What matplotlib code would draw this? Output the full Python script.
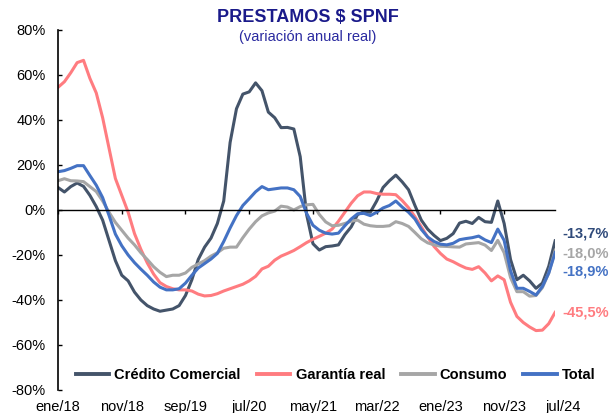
import matplotlib
matplotlib.use("Agg")
import matplotlib.pyplot as plt
import matplotlib.transforms as mtransforms
import numpy as np

plt.rcParams["font.family"] = ["Liberation Sans", "DejaVu Sans"]

# eje x: meses ene/18 .. jul/24
tick_labels = ["ene/18", "nov/18", "sep/19", "jul/20", "may/21",
               "mar/22", "ene/23", "nov/23", "jul/24"]
tick_idx = [0, 10, 20, 30, 40, 50, 60, 70, 78]

credito = [10, 8, 10.4, 12, 10.5, 6.5, 1.5, -4.5, -13.5, -22.5,
           -29, -31.5, -36.5, -40, -42.5, -44, -45, -44.5, -44, -42.5,
           -38, -31, -22, -16.5, -12.5, -6, 4, 30, 45, 51.5,
           52.5, 56.5, 53, 43.5, 41, 36.6, 36.7, 36, 23.7, -2,
           -15, -17.8, -16.3, -16, -15.5, -11, -7.5, -2, -0.8, -1,
           4, 10, 13, 15.5, 12.5, 9, 2, -4.5, -8.5, -11.3,
           -13.6, -12.6, -10.5, -5.8, -5, -6, -3.3, -5.2, -5.5, 4,
           -6, -22, -31, -29, -31.5, -34.8, -32.5, -25, -13.7]

garantia = [54.5, 57, 61, 65.5, 66.5, 58.5, 52, 41, 27.5, 14,
            6.5, -1, -10.5, -17.5, -23.5, -28.5, -32.3, -34, -35, -35.5,
            -35.5, -36, -37.4, -38.2, -38, -37.2, -36, -35, -34, -33,
            -31.5, -29.5, -26.2, -25, -22.3, -20.5, -19.3, -18, -16.3, -14.5,
            -13, -11.7, -10.3, -8.5, -5, -1, 3, 6.3, 8, 8,
            7.3, 7, 7, 6.8, 4.2, 1, -3, -7.5, -12, -16.2,
            -19.3, -21.8, -23, -24.5, -25.8, -26.4, -25.2, -28, -31.5, -29.3,
            -31, -41, -47.3, -50, -52, -53.6, -53.4, -50.5, -45.5]

consumo = [13, 13.9, 13, 12.9, 12.6, 10.4, 8.2, 4, -1, -5.5,
           -9, -12.5, -15.5, -19, -22, -25.2, -27.7, -29.6, -29, -29,
           -28, -25.5, -24, -22.5, -20.5, -19, -17, -16.5, -16.5, -12.3,
           -8.5, -5.2, -2.6, -1.3, -0.5, 1.7, 1.3, 0, 1.5, 2.3,
           2.5, -2, -5.3, -7, -6.8, -6, -5, -4.5, -6.3, -7,
           -7.3, -7.3, -7, -5.2, -6, -7.3, -10, -12.8, -14.6, -15.5,
           -16.1, -16.2, -16.4, -16.5, -15.1, -14.8, -14.5, -15.6, -18, -13.5,
           -19, -30, -36.3, -36.3, -38.3, -38, -34.5, -28, -18.0]

total = [17, 17.5, 18.5, 19.7, 19.7, 15.3, 11, 5.5, -2.4, -10.7,
         -15.9, -20, -23.4, -26.3, -29, -32, -34.3, -35.5, -35.5, -35,
         -32.5, -29, -25.8, -23.8, -21.8, -19.3, -14, -8, -2.5, 2,
         5, 8.1, 10.4, 9, 9.4, 9.8, 9.8, 9, 6, -1.5,
         -6.8, -9, -10.3, -10.7, -10.3, -7, -4, -1.7, -1.5, -2.5,
         -1, 0.9, 2, 4, 1.3, -1, -4, -8.6, -12, -14,
         -15.2, -15.5, -14.8, -13.2, -12.7, -12.3, -11.6, -13.3, -14.5, -8.5,
         -13.5, -27, -34.8, -34.8, -36.2, -37.8, -34, -28, -18.9]

series = [
    ("Crédito Comercial", credito, "#44546a", "#2f4a7a", "-13,7%", 5.5),
    ("Garantía real", garantia, "#ff7c80", "#ff7c80", "-45,5%", 0),
    ("Consumo", consumo, "#a6a6a6", "#a6a6a6", "-18,0%", -2),
    ("Total", total, "#4472c4", "#4472c4", "-18,9%", -14),
]

fig = plt.figure(figsize=(6.16, 4.13), dpi=100)
ax = fig.add_axes([0.0942, 0.0557, 0.807, 0.8717])

x = np.arange(len(total))
for name, vals, col, lcol, lab, dy in series:
    ax.plot(x, vals, color=col, lw=2.2, label=name, solid_joinstyle="round")
    ax.annotate(lab, xy=(x[-1], vals[-1]), xytext=(5, dy),
                textcoords="offset points", color=lcol, fontsize=10.5,
                fontweight="bold", va="center", ha="left", annotation_clip=False)

ax.set_xlim(0, x[-1])
ax.set_ylim(-80, 80)
ax.set_yticks(np.arange(-80, 81, 20))
ax.set_yticklabels([f"{v}%" for v in range(-80, 81, 20)])
ax.tick_params(axis="y", direction="in", length=3, width=1, pad=9, labelsize=10.5)

# linea del cero con marcas de meses
ax.spines["top"].set_visible(False)
ax.spines["right"].set_visible(False)
ax.spines["bottom"].set_position(("data", 0))
ax.spines["bottom"].set_linewidth(1)
ax.spines["left"].set_linewidth(1.2)
ax.set_xticks(tick_idx[:-1])
ax.tick_params(axis="x", direction="out", length=3, width=1, labelbottom=False)

sec = ax.secondary_xaxis("bottom")
sec.set_xticks(tick_idx)
sec.set_xticklabels(tick_labels)
sec.spines["bottom"].set_visible(False)
sec.tick_params(axis="x", length=0, pad=7, labelsize=10.5)
# la ultima etiqueta queda un poco corrida a la derecha, como en el original
last = sec.get_xticklabels()[-1]
last.set_transform(last.get_transform() +
                   mtransforms.ScaledTranslation(0.08, 0, fig.dpi_scale_trans))

fig.text(0.5, 0.958, "PRESTAMOS $ SPNF", ha="center", va="center",
         fontsize=13, fontweight="bold", color="#1a1a8a")
fig.text(0.5, 0.91, "(variación anual real)", ha="center", va="center",
         fontsize=10.5, color="#2a2aa0")

leg = fig.legend(loc="center", bbox_to_anchor=(0.545, 0.092), ncol=4,
                 frameon=False, handlelength=2.3, handletextpad=0.35,
                 columnspacing=1.1, prop={"weight": "bold", "size": 10.5})
for h in leg.get_lines():
    h.set_linewidth(2.8)

fig.savefig("out.png", dpi=100)
